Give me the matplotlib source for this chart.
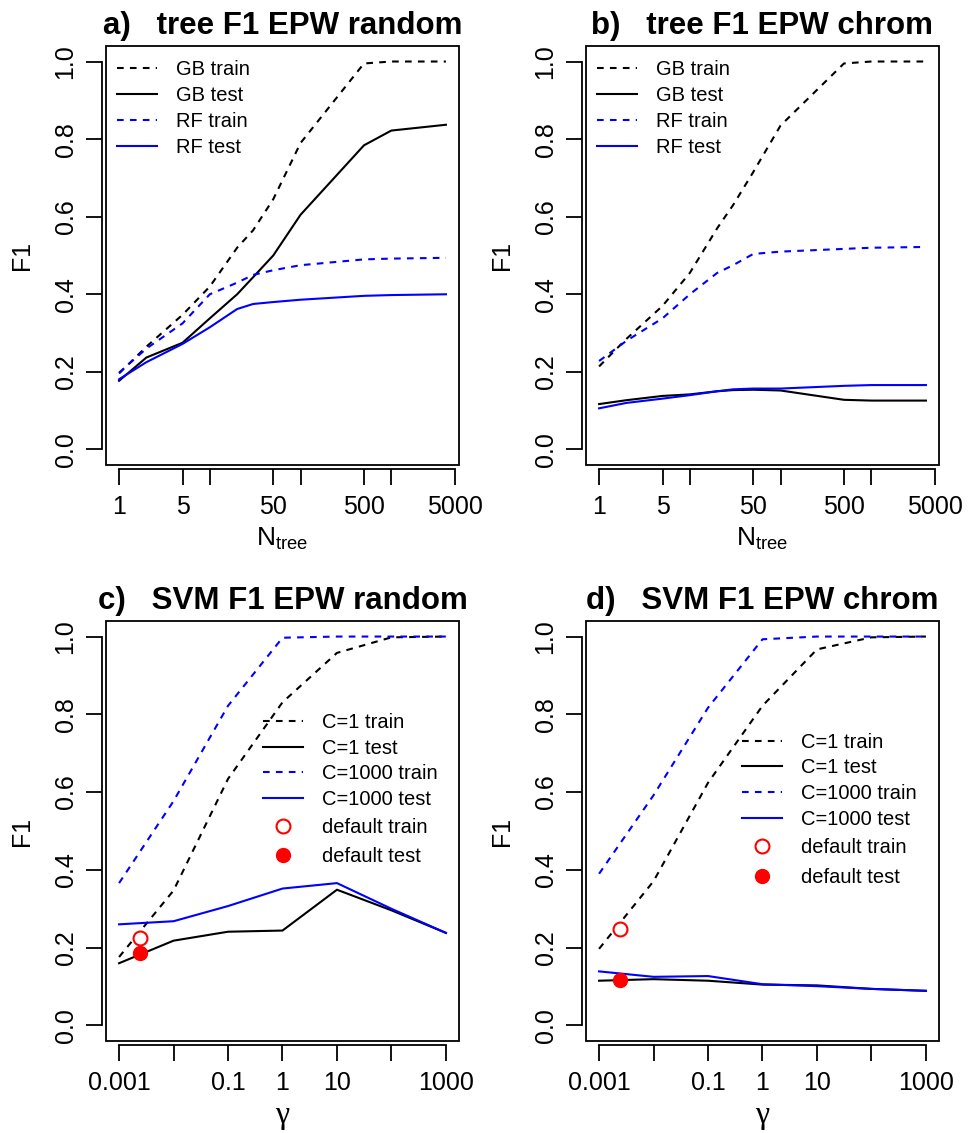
import matplotlib
matplotlib.use("Agg")
import matplotlib.pyplot as plt
from matplotlib.patches import Rectangle
import numpy as np

plt.rcParams["font.family"] = ["Liberation Sans", "DejaVu Sans"]
plt.rcParams["mathtext.fontset"] = "custom"
plt.rcParams["mathtext.rm"] = "Liberation Sans"
plt.rcParams["mathtext.it"] = "Liberation Sans:italic"

# === DATA ===
# tree panels: number of trees
n_tree = [1, 2, 5, 10, 20, 30, 50, 100, 500, 1000, 4000]
tree_ticks = [1, 5, 10, 50, 100, 500, 1000, 5000]
tree_labels = ["1", "5", "", "50", "", "500", "", "5000"]

# a) random split
a_gb_train = [0.196, 0.265, 0.347, 0.42, 0.52, 0.565, 0.645, 0.79, 0.995, 1.0, 1.0]
a_gb_test = [0.177, 0.237, 0.275, 0.338, 0.40, 0.444, 0.50, 0.605, 0.784, 0.822, 0.837]
a_rf_train = [0.198, 0.26, 0.325, 0.40, 0.43, 0.45, 0.462, 0.475, 0.49, 0.492, 0.494]
a_rf_test = [0.181, 0.225, 0.272, 0.315, 0.362, 0.375, 0.38, 0.386, 0.396, 0.398, 0.40]

# b) chromosome split
b_gb_train = [0.214, 0.285, 0.37, 0.455, 0.57, 0.63, 0.715, 0.835, 0.995, 1.0, 1.0]
b_gb_test = [0.117, 0.127, 0.138, 0.142, 0.150, 0.153, 0.154, 0.152, 0.128, 0.126, 0.126]
b_rf_train = [0.228, 0.28, 0.338, 0.40, 0.455, 0.475, 0.504, 0.51, 0.517, 0.52, 0.522]
b_rf_test = [0.106, 0.12, 0.131, 0.14, 0.15, 0.155, 0.157, 0.157, 0.164, 0.166, 0.166]

# SVM panels: gamma
gamma = [0.001, 0.01, 0.1, 1, 10, 100, 1000]
svm_ticks = [0.001, 0.01, 0.1, 1, 10, 100, 1000]
svm_labels = ["0.001", "", "0.1", "1", "10", "", "1000"]

# c) random split
c_c1_train = [0.176, 0.347, 0.634, 0.831, 0.958, 0.998, 1.0]
c_c1_test = [0.16, 0.218, 0.241, 0.244, 0.349, 0.296, 0.238]
c_c1000_train = [0.366, 0.577, 0.822, 0.997, 1.0, 1.0, 1.0]
c_c1000_test = [0.26, 0.268, 0.307, 0.352, 0.366, 0.30, 0.238]
c_default_gamma = 0.0024
c_default_train = 0.225
c_default_test = 0.185

# d) chromosome split
d_c1_train = [0.197, 0.371, 0.624, 0.822, 0.967, 0.998, 1.0]
d_c1_test = [0.115, 0.119, 0.115, 0.105, 0.103, 0.094, 0.089]
d_c1000_train = [0.39, 0.592, 0.817, 0.993, 1.0, 1.0, 1.0]
d_c1000_test = [0.139, 0.125, 0.127, 0.106, 0.101, 0.094, 0.089]
d_default_gamma = 0.0024
d_default_train = 0.247
d_default_test = 0.117

y_ticks = [0.0, 0.2, 0.4, 0.6, 0.8, 1.0]
y_labels = ["0.0", "0.2", "0.4", "0.6", "0.8", "1.0"]

# === STYLE ===
LW = 1.5
DASH = (0, (3.2, 3.0))
BLUE = "#0000ff"
TICK_FS = 18
LEG_FS = 14.5


def setup_axes(ax, xdata, ticks, labels, title, xlabel, xlabel_kw):
    ax.set_xscale("log")
    lo, hi = np.log10(min(xdata)), np.log10(max(xdata))
    pad = 0.04 * (hi - lo)
    ax.set_xlim(10 ** (lo - pad), 10 ** (hi + pad))
    ax.set_ylim(-0.04, 1.04)
    ax.set_xticks(ticks)
    ax.set_xticklabels(labels)
    ax.xaxis.set_minor_locator(matplotlib.ticker.NullLocator())
    ax.set_yticks(y_ticks)
    ax.set_yticklabels(y_labels)
    for s in ["top", "right"]:
        ax.spines[s].set_visible(False)
    for s in ["left", "bottom"]:
        ax.spines[s].set_position(("outward", 3))
        ax.spines[s].set_linewidth(1.3)
    ax.spines["left"].set_bounds(0, 1)
    ax.spines["bottom"].set_bounds(ticks[0], ticks[-1])
    ax.add_patch(Rectangle((0, 0), 1, 1, transform=ax.transAxes, fill=False,
                           lw=1.3, color="black", clip_on=False, zorder=5))
    ax.tick_params(length=11.5, width=1.3, labelsize=TICK_FS, pad=6)
    ax.tick_params(axis="x", pad=7)
    for lab in ax.get_yticklabels():
        lab.set_rotation(90)
        lab.set_va("center")
        lab.set_ha("right")
    ax.set_title(title, fontsize=22.5, fontweight="bold", pad=8.6)
    ax.text(-0.238, 0.5, "F1", rotation=90, ha="center", va="center",
            fontsize=TICK_FS, transform=ax.transAxes)
    ax.text(0.5, -0.177, xlabel, ha="center", va="center",
            transform=ax.transAxes, **xlabel_kw)


fig = plt.figure(figsize=(9.77, 11.33), dpi=100)
ax_a = fig.add_axes([0.1085, 0.5896, 0.3613, 0.3698])
ax_b = fig.add_axes([0.5998, 0.5896, 0.3613, 0.3698])
ax_c = fig.add_axes([0.1085, 0.0812, 0.3613, 0.3707])
ax_d = fig.add_axes([0.5998, 0.0812, 0.3613, 0.3707])

# === tree panels ===
for ax, gbtr, gbte, rftr, rfte, title in [
    (ax_a, a_gb_train, a_gb_test, a_rf_train, a_rf_test, "a)   tree F1 EPW random"),
    (ax_b, b_gb_train, b_gb_test, b_rf_train, b_rf_test, "b)   tree F1 EPW chrom"),
]:
    ax.plot(n_tree, gbtr, color="black", lw=LW, linestyle=DASH, label="GB train")
    ax.plot(n_tree, gbte, color="black", lw=LW, label="GB test")
    ax.plot(n_tree, rftr, color=BLUE, lw=LW, linestyle=DASH, label="RF train")
    ax.plot(n_tree, rfte, color=BLUE, lw=LW, label="RF test")
    setup_axes(ax, n_tree, tree_ticks, tree_labels, title, r"N$_{\mathrm{tree}}$",
               {"fontsize": 19})
    ax.legend(loc="upper left", bbox_to_anchor=(0.031, 0.967), frameon=False,
              fontsize=LEG_FS, borderaxespad=0, borderpad=0, handlelength=2.0,
              handletextpad=0.95, labelspacing=0.35)

# === SVM panels ===
for ax, tr1, te1, tr2, te2, dg, dtr, dte, title, x0, leg_y1, leg_y2 in [
    (ax_c, c_c1_train, c_c1_test, c_c1000_train, c_c1000_test,
     c_default_gamma, c_default_train, c_default_test,
     "c)   SVM F1 EPW random", 0.445, 0.781, 0.532),
    (ax_d, d_c1_train, d_c1_test, d_c1000_train, d_c1000_test,
     d_default_gamma, d_default_train, d_default_test,
     "d)   SVM F1 EPW chrom", 0.442, 0.734, 0.483),
]:
    l1, = ax.plot(gamma, tr1, color="black", lw=LW, linestyle=DASH, label="C=1 train")
    l2, = ax.plot(gamma, te1, color="black", lw=LW, label="C=1 test")
    l3, = ax.plot(gamma, tr2, color=BLUE, lw=LW, linestyle=DASH, label="C=1000 train")
    l4, = ax.plot(gamma, te2, color=BLUE, lw=LW, label="C=1000 test")
    p1, = ax.plot([dg], [dtr], "o", ms=10, mfc="white", mec="red", mew=1.5,
                  linestyle="none", label="default train")
    p2, = ax.plot([dg], [dte], "o", ms=10, mfc="red", mec="red",
                  linestyle="none", label="default test")
    setup_axes(ax, gamma, svm_ticks, svm_labels, title, "\u03b3",
               {"fontsize": 23, "family": "Liberation Serif"})
    leg1 = ax.legend(handles=[l1, l2, l3, l4], loc="upper left",
                     bbox_to_anchor=(x0, leg_y1), frameon=False, fontsize=LEG_FS,
                     borderaxespad=0, borderpad=0, handlelength=2.0,
                     handletextpad=0.95, labelspacing=0.335)
    ax.add_artist(leg1)
    ax.legend(handles=[p1, p2], loc="upper left", bbox_to_anchor=(x0, leg_y2),
              frameon=False, fontsize=LEG_FS, borderaxespad=0, borderpad=0,
              handlelength=2.0, handletextpad=0.95, labelspacing=0.53)

fig.savefig("out.png", dpi=100, facecolor="white")
